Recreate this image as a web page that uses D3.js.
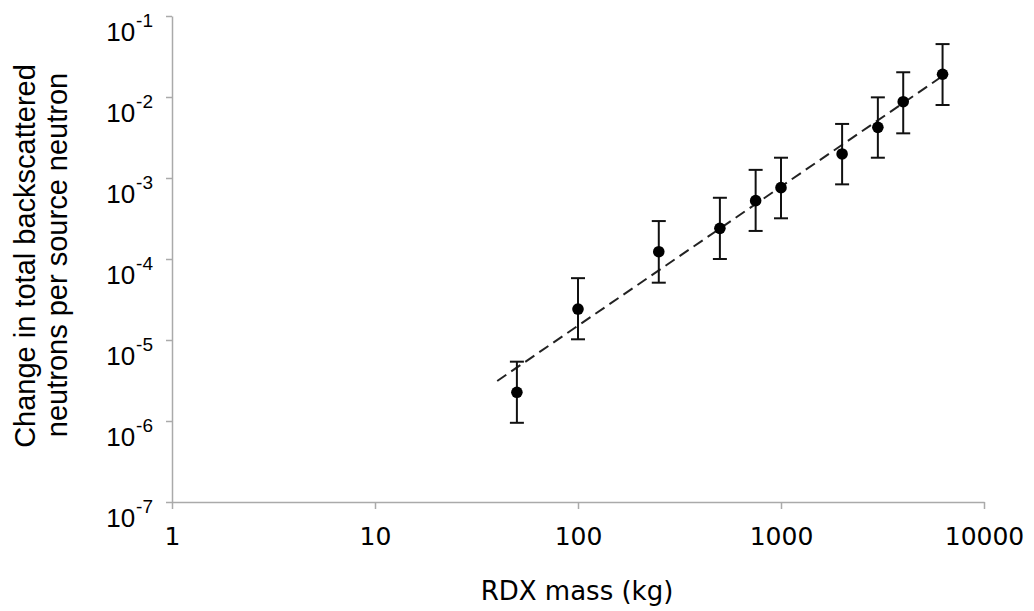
<!DOCTYPE html>
<html>
<head>
<meta charset="utf-8">
<script src="https://cdn.jsdelivr.net/npm/d3@7"></script>
<style>
  html, body { margin: 0; padding: 0; background: #fff; }
  svg { display: block; }
</style>
</head>
<body>
<svg id="chart" width="1034" height="611"></svg>
<script>
// RDX mass (kg) for each simulated case
const massKg = [50, 100, 250, 500, 750, 1000, 2000, 3000, 4000, 6250];
// Change in total backscattered neutrons per source neutron
const signal = [2.26e-6, 2.41e-5, 1.23e-4, 2.39e-4, 5.25e-4, 7.6e-4, 1.98e-3, 4.22e-3, 8.75e-3, 1.91e-2];
// Error bar limits
const signalHigh = [5.4e-6, 5.8e-5, 2.94e-4, 5.7e-4, 1.26e-3, 1.78e-3, 4.65e-3, 9.9e-3, 2.02e-2, 4.5e-2];
const signalLow = [9.5e-7, 1.02e-5, 5.1e-5, 1.0e-4, 2.22e-4, 3.18e-4, 8.35e-4, 1.78e-3, 3.56e-3, 7.96e-3];
// Axis ticks
const xTicks = [1, 10, 100, 1000, 10000];
const yExponents = [-7, -6, -5, -4, -3, -2, -1];
// Power-law trend starts this many kg before the first sample
const trendBackcast = 10;

const svg = d3.select("#chart");
const plotLeft = 172, plotRight = 984, plotTop = 16, plotBottom = 502;

const x = d3.scaleLog().domain([1, 10000]).range([plotLeft, plotRight]);
const y = d3.scaleLog().domain([1e-7, 1e-1]).range([plotBottom, plotTop]);

const axisColor = "#aaaaaa";

// X axis
const gx = svg.append("g")
  .attr("transform", `translate(0,${plotBottom})`)
  .call(d3.axisBottom(x).tickValues(xTicks).tickFormat(d3.format("d")).tickSize(7).tickSizeOuter(0));
gx.select(".domain").attr("stroke", axisColor).attr("stroke-width", 1.5);
gx.selectAll(".tick line").attr("stroke", axisColor).attr("stroke-width", 1.5);
gx.selectAll(".tick text")
  .attr("font-family", "'DejaVu Sans', Verdana, sans-serif")
  .attr("font-size", 25)
  .attr("fill", "#000")
  .attr("dy", null)
  .attr("y", 43);

// Y axis with power-of-ten labels
const gy = svg.append("g")
  .attr("transform", `translate(${plotLeft},0)`)
  .call(d3.axisLeft(y).tickValues(yExponents.map(e => Math.pow(10, e))).tickFormat("").tickSize(6).tickSizeOuter(0));
gy.select(".domain").attr("stroke", axisColor).attr("stroke-width", 1.5);
gy.selectAll(".tick line").attr("stroke", axisColor).attr("stroke-width", 1.5);
gy.selectAll(".tick").each(function(d) {
  const e = Math.round(Math.log10(d));
  const t = d3.select(this).select("text")
    .attr("x", -19)
    .attr("y", 0)
    .attr("dy", null)
    .attr("text-anchor", "end")
    .attr("font-family", "'Liberation Sans', Arial, sans-serif")
    .attr("fill", "#000");
  t.text(null);
  t.append("tspan").attr("font-size", 26).attr("dy", 24).text("10");
  t.append("tspan").attr("font-size", 19).attr("dx", 1).attr("dy", -14).text(String(e));
});

// Axis titles
svg.append("text")
  .attr("x", 577)
  .attr("y", 600)
  .attr("text-anchor", "middle")
  .attr("font-family", "'DejaVu Sans', Verdana, sans-serif")
  .attr("font-size", 26)
  .attr("fill", "#000")
  .text("RDX mass (kg)");

const yTitle = svg.append("text")
  .attr("transform", "rotate(-90)")
  .attr("text-anchor", "middle")
  .attr("font-family", "'Liberation Sans', Arial, sans-serif")
  .attr("font-size", 29)
  .attr("fill", "#000");
yTitle.append("tspan").attr("x", -256).attr("y", 35).text("Change in total backscattered");
yTitle.append("tspan").attr("x", -255).attr("y", 67).text("neutrons per source neutron");

// Least-squares power-law fit in log-log space
const lx = massKg.map(Math.log10), ly = signal.map(Math.log10);
const mx = d3.mean(lx), my = d3.mean(ly);
const slope = d3.sum(lx, (v, i) => (v - mx) * (ly[i] - my)) / d3.sum(lx, v => (v - mx) * (v - mx));
const intercept = my - slope * mx;
const fit = m => Math.pow(10, intercept + slope * Math.log10(m));
const trendX = [massKg[0] - trendBackcast, massKg[massKg.length - 1]];

svg.append("line")
  .attr("x1", x(trendX[0])).attr("y1", y(fit(trendX[0])))
  .attr("x2", x(trendX[1])).attr("y2", y(fit(trendX[1])))
  .attr("stroke", "#222")
  .attr("stroke-width", 2)
  .attr("stroke-dasharray", "11,6");

// Error bars
const bars = svg.append("g").attr("stroke", "#111").attr("stroke-width", 2);
const capHalf = 7;
massKg.forEach((m, i) => {
  const cx = x(m);
  bars.append("line").attr("x1", cx).attr("x2", cx).attr("y1", y(signalHigh[i])).attr("y2", y(signalLow[i]));
  bars.append("line").attr("x1", cx - capHalf).attr("x2", cx + capHalf).attr("y1", y(signalHigh[i])).attr("y2", y(signalHigh[i]));
  bars.append("line").attr("x1", cx - capHalf).attr("x2", cx + capHalf).attr("y1", y(signalLow[i])).attr("y2", y(signalLow[i]));
});

// Data points
svg.append("g").selectAll("circle")
  .data(massKg)
  .join("circle")
  .attr("cx", d => x(d))
  .attr("cy", (d, i) => y(signal[i]))
  .attr("r", 5.8)
  .attr("fill", "#000");
</script>
</body>
</html>
